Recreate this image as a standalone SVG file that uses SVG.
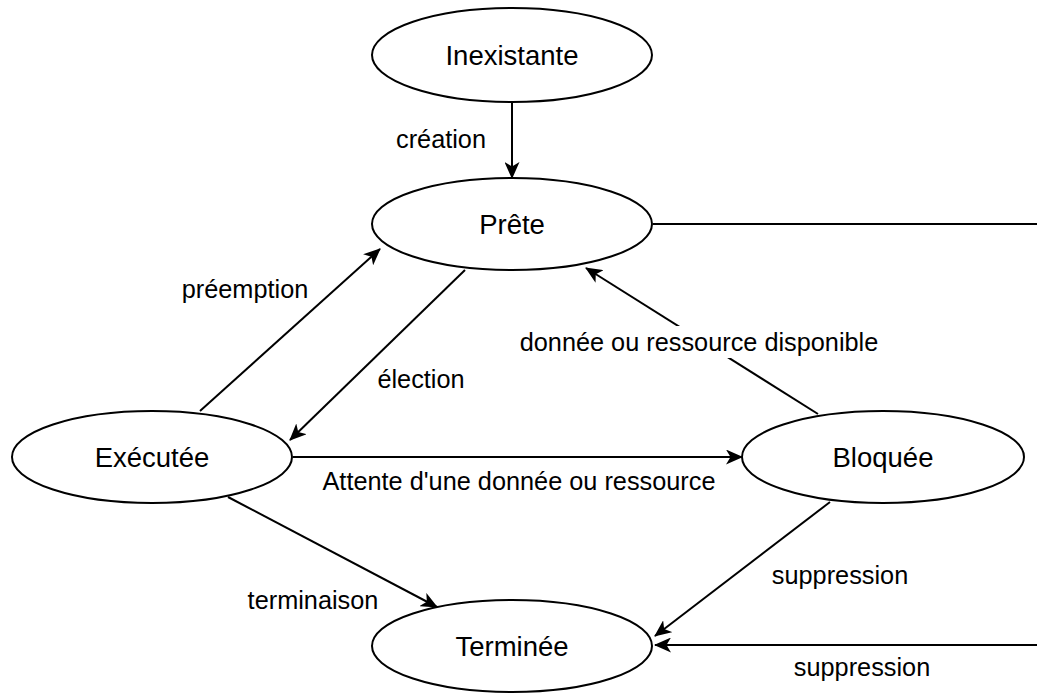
<svg xmlns="http://www.w3.org/2000/svg" width="1037" height="693" viewBox="0 0 1037 693">
<style>
.node ellipse{fill:#fff;stroke:#000;stroke-width:2}
.node text{font-family:"Liberation Sans",Arial,sans-serif;font-size:27.5px;text-anchor:middle;dominant-baseline:central;fill:#000}
.edge{fill:none;stroke:#000;stroke-width:2;marker-end:url(#arr)}
.lbl{font-family:"Liberation Sans",Arial,sans-serif;font-size:25.3px;text-anchor:middle;dominant-baseline:central;fill:#000}
</style>
<defs>
<marker id="arr" viewBox="0 0 17 15" refX="16" refY="7.5" markerWidth="17" markerHeight="15" markerUnits="userSpaceOnUse" orient="auto">
<path d="M0,0 L17,7.5 L0,15 L4.5,7.5 Z" fill="#000"/>
</marker>
</defs>
<rect width="1037" height="693" fill="#fff"/>
<g id="connectors">
<path class="edge" d="M512,102 V178"/>
<path class="edge" d="M653,224 H1050 V645 H655"/>
<path class="edge" d="M200,411 L380,249"/>
<path class="edge" d="M465,270 L290,440"/>
<path class="edge" d="M293,457 H742"/>
<path class="edge" d="M818,414 L586,268"/>
<path class="edge" d="M830,502 L655,636"/>
<path class="edge" d="M228,497 L437,607"/>
</g>
<g id="labels">
<text class="lbl" x="441" y="139">création</text>
<text class="lbl" x="245" y="289">préemption</text>
<text class="lbl" x="421" y="379">élection</text>
<rect x="512" y="326" width="374" height="32" fill="#fff"/>
<text class="lbl" x="699" y="342">donnée ou ressource disponible</text>
<text class="lbl" x="519" y="481">Attente d'une donnée ou ressource</text>
<text class="lbl" x="313" y="600">terminaison</text>
<text class="lbl" x="840" y="575">suppression</text>
<text class="lbl" x="862" y="667">suppression</text>
</g>
<g id="inexistante" class="node"><ellipse cx="512" cy="55" rx="140" ry="47"/><text x="512" y="55">Inexistante</text></g>
<g id="prete" class="node"><ellipse cx="512" cy="224" rx="140" ry="46"/><text x="512" y="224">Prête</text></g>
<g id="executee" class="node"><ellipse cx="152" cy="457" rx="140" ry="46"/><text x="152" y="457">Exécutée</text></g>
<g id="bloquee" class="node"><ellipse cx="883" cy="457" rx="141" ry="46"/><text x="883" y="457">Bloquée</text></g>
<g id="terminee" class="node"><ellipse cx="512" cy="646" rx="140" ry="46"/><text x="512" y="646">Terminée</text></g>
</svg>
